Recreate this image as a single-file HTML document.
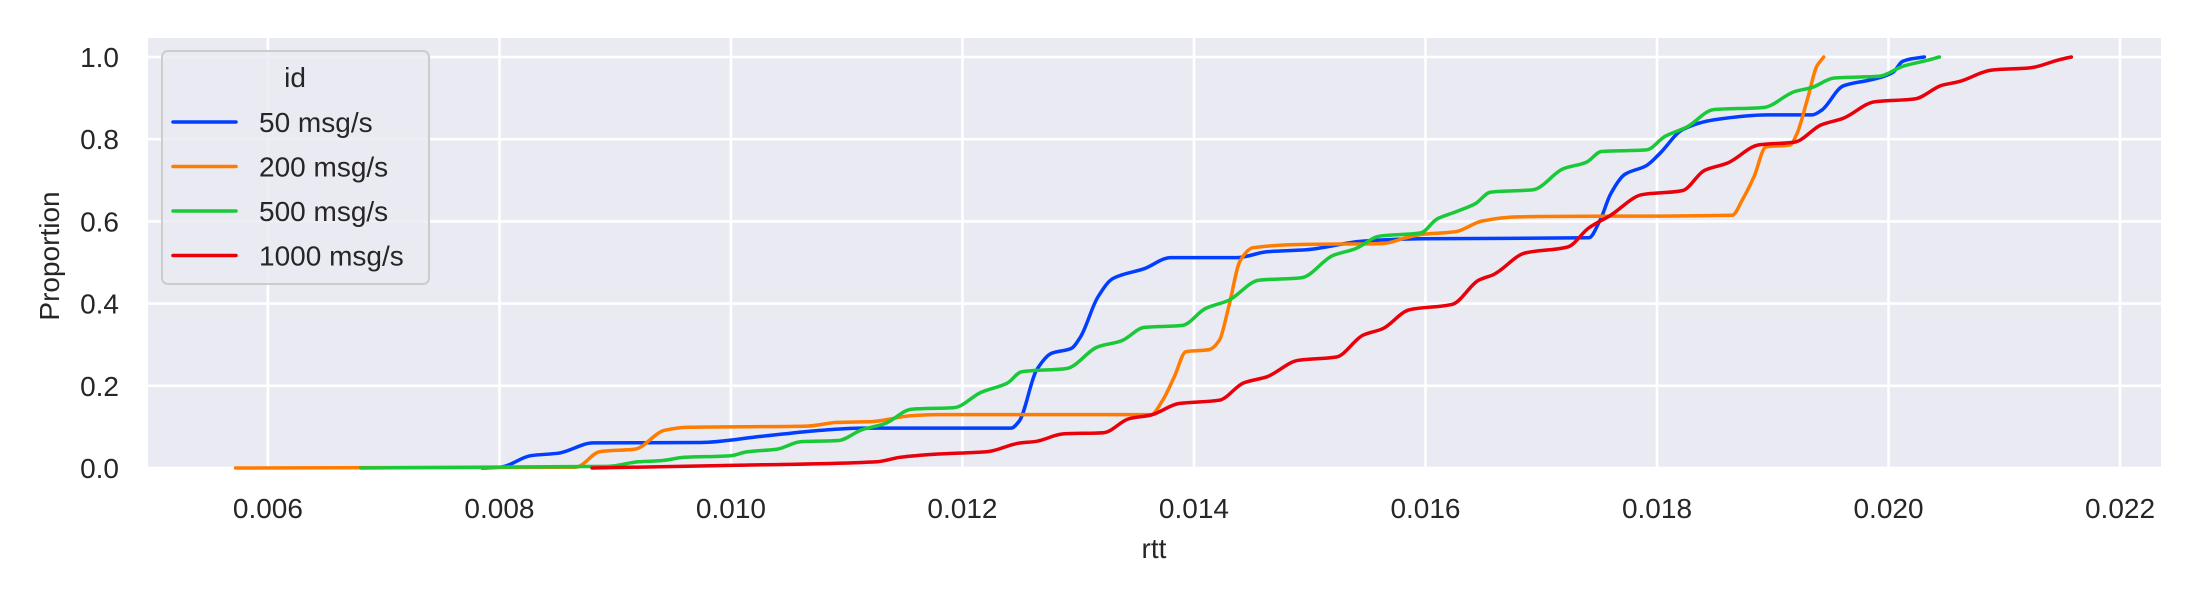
<!DOCTYPE html>
<html>
<head>
<meta charset="utf-8">
<style>
  html,body{margin:0;padding:0;background:#fff;}
  svg{display:block;}
  text{font-family:"Liberation Sans","DejaVu Sans",sans-serif;fill:#262626;}
</style>
</head>
<body>
<svg id="chart" width="2200" height="600" viewBox="0 0 2200 600" xmlns="http://www.w3.org/2000/svg">
  <rect x="148" y="38" width="2013" height="430" fill="#eaeaf2"/>
  <g id="grid"></g>
  <g id="series"></g>
  <g id="xticks"></g>
  <g id="yticks"></g>
  <text x="1154" y="558" font-size="28" text-anchor="middle">rtt</text>
  <text x="0" y="0" font-size="28" text-anchor="middle" transform="translate(59,256) rotate(-90)">Proportion</text>
  <g>
    <rect x="162" y="51" width="267" height="233" rx="6" ry="6" fill="#eaeaf2" fill-opacity="0.8" stroke="#cccccc" stroke-width="2"/>
    <text x="295" y="87" font-size="28" text-anchor="middle">id</text>
    <g id="legendEntries"></g>
  </g>
</svg>
<script>
const xTicks = [0.006, 0.008, 0.010, 0.012, 0.014, 0.016, 0.018, 0.020, 0.022];
const xTickLabels = ["0.006","0.008","0.010","0.012","0.014","0.016","0.018","0.020","0.022"];
const yTicks = [0, 0.2, 0.4, 0.6, 0.8, 1.0];
const yTickLabels = ["0.0","0.2","0.4","0.6","0.8","1.0"];
const seriesNames = ["50 msg/s","200 msg/s","500 msg/s","1000 msg/s"];
const seriesColors = ["#023eff","#ff7c00","#1ac938","#e8000b"];

const rtt50 = [0.00785,0.00801,0.00827,0.00851,0.00881,0.00974,0.01026,0.01079,0.01113,0.01242,0.01249,0.01264,0.01277,0.01294,0.01302,0.01317,0.01330,0.01357,0.01380,0.01437,0.01463,0.01497,0.01546,0.01596,0.01741,0.01751,0.01760,0.01772,0.01791,0.01803,0.01822,0.01849,0.01896,0.01934,0.01942,0.01961,0.01984,0.01996,0.02004,0.02012,0.02019,0.02031];
const prop50 = [0,0.002,0.030,0.036,0.061,0.062,0.077,0.092,0.097,0.097,0.114,0.238,0.279,0.291,0.319,0.416,0.461,0.485,0.512,0.512,0.526,0.531,0.552,0.558,0.560,0.604,0.667,0.714,0.736,0.767,0.823,0.847,0.859,0.859,0.870,0.930,0.944,0.953,0.963,0.989,0.995,1.0];

const rtt200 = [0.00572,0.00866,0.00887,0.00917,0.00943,0.00963,0.01066,0.01092,0.01122,0.01155,0.01178,0.01363,0.01373,0.01383,0.01393,0.01413,0.01422,0.01430,0.01440,0.01451,0.01496,0.01563,0.01583,0.01596,0.01626,0.01649,0.01679,0.01865,0.01874,0.01884,0.01894,0.01915,0.01921,0.01930,0.01938,0.01944];
const prop200 = [0,0.002,0.040,0.046,0.092,0.099,0.102,0.111,0.113,0.127,0.130,0.130,0.165,0.222,0.283,0.288,0.311,0.392,0.505,0.536,0.544,0.546,0.560,0.568,0.575,0.601,0.611,0.615,0.654,0.710,0.781,0.786,0.814,0.898,0.977,1.0];

const rtt500 = [0.00680,0.00894,0.00920,0.00940,0.00960,0.01000,0.01013,0.01040,0.01060,0.01093,0.01113,0.01133,0.01156,0.01193,0.01216,0.01239,0.01251,0.01290,0.01317,0.01337,0.01357,0.01390,0.01410,0.01430,0.01456,0.01493,0.01520,0.01540,0.01560,0.01596,0.01610,0.01626,0.01643,0.01656,0.01693,0.01719,0.01739,0.01752,0.01791,0.01807,0.01826,0.01849,0.01892,0.01919,0.01934,0.01953,0.01992,0.02012,0.02035,0.02044];
const prop500 = [0,0.004,0.015,0.018,0.026,0.030,0.039,0.046,0.064,0.067,0.093,0.108,0.143,0.147,0.184,0.207,0.234,0.242,0.295,0.309,0.342,0.347,0.388,0.408,0.457,0.463,0.517,0.534,0.564,0.572,0.606,0.623,0.643,0.671,0.677,0.728,0.744,0.770,0.774,0.807,0.830,0.872,0.877,0.916,0.926,0.949,0.953,0.977,0.993,1.0];

const rtt1000 = [0.00880,0.01013,0.01126,0.01146,0.01179,0.01222,0.01248,0.01264,0.01287,0.01322,0.01344,0.01363,0.01387,0.01422,0.01443,0.01463,0.01490,0.01523,0.01546,0.01563,0.01586,0.01623,0.01646,0.01659,0.01686,0.01723,0.01741,0.01760,0.01787,0.01822,0.01841,0.01861,0.01888,0.01919,0.01942,0.01961,0.01988,0.02023,0.02046,0.02061,0.02089,0.02123,0.02147,0.02158];
const prop1000 = [0,0.007,0.015,0.026,0.034,0.040,0.060,0.065,0.083,0.086,0.120,0.129,0.157,0.165,0.207,0.222,0.262,0.270,0.323,0.339,0.385,0.398,0.457,0.471,0.523,0.538,0.584,0.615,0.665,0.675,0.724,0.742,0.786,0.793,0.835,0.851,0.891,0.898,0.931,0.940,0.968,0.974,0.993,1.0];

const PL = 148, PR = 2161, PT = 38, PB = 468;
const X0 = 0.004964, X1 = 0.022354, Y0 = 0, Y1 = 1.0462;
function xScale(v){ return PL + (v - X0) / (X1 - X0) * (PR - PL); }
function yScale(v){ return PB - (v - Y0) / (Y1 - Y0) * (PB - PT); }

const NS = "http://www.w3.org/2000/svg";
function mk(tag){ return document.createElementNS(NS, tag); }

const grid = document.getElementById("grid");
const xt = document.getElementById("xticks");
const yt = document.getElementById("yticks");
xTicks.forEach((t, i) => {
  const l = mk("line");
  
  
  l.setAttribute("x1", xScale(t)); l.setAttribute("x2", xScale(t));
  l.setAttribute("y1", PT); l.setAttribute("y2", PB);
  l.setAttribute("stroke", "#ffffff"); l.setAttribute("stroke-width", "2.6");
  grid.appendChild(l);
  const tx = mk("text");
  
  
  tx.setAttribute("x", xScale(t)); tx.setAttribute("y", 518);
  tx.setAttribute("font-size", "28"); tx.setAttribute("text-anchor", "middle");
  tx.textContent = xTickLabels[i];
  xt.appendChild(tx);
});
yTicks.forEach((t, i) => {
  const l = mk("line");
  
  
  l.setAttribute("x1", PL); l.setAttribute("x2", PR);
  l.setAttribute("y1", yScale(t)); l.setAttribute("y2", yScale(t));
  l.setAttribute("stroke", "#ffffff"); l.setAttribute("stroke-width", "2.6");
  grid.appendChild(l);
  const tx = mk("text");
  
  
  tx.setAttribute("x", 119); tx.setAttribute("y", yScale(t) + 10);
  tx.setAttribute("font-size", "28"); tx.setAttribute("text-anchor", "end");
  tx.textContent = yTickLabels[i];
  yt.appendChild(tx);
});

// monotone cubic (Fritsch-Carlson) path in pixel space
function monotonePath(pts) {
  const n = pts.length;
  const dx = [], m = [], t = [];
  for (let i = 0; i < n - 1; i++) {
    dx.push(pts[i+1][0] - pts[i][0]);
    m.push((pts[i+1][1] - pts[i][1]) / (dx[i] || 1e-6));
  }
  t[0] = m[0]; t[n-1] = m[n-2];
  for (let i = 1; i < n - 1; i++) {
    if (m[i-1] * m[i] <= 0) t[i] = 0;
    else {
      const w1 = 2*dx[i] + dx[i-1], w2 = dx[i] + 2*dx[i-1];
      t[i] = (w1 + w2) / (w1 / m[i-1] + w2 / m[i]);
    }
  }
  let d = "M" + pts[0][0].toFixed(1) + "," + pts[0][1].toFixed(1);
  for (let i = 0; i < n - 1; i++) {
    const h = dx[i] / 3;
    d += " C" + (pts[i][0] + h).toFixed(1) + "," + (pts[i][1] + t[i]*h).toFixed(1) + " " +
         (pts[i+1][0] - h).toFixed(1) + "," + (pts[i+1][1] - t[i+1]*h).toFixed(1) + " " +
         pts[i+1][0].toFixed(1) + "," + pts[i+1][1].toFixed(1);
  }
  return d;
}

const allX = [rtt50, rtt200, rtt500, rtt1000];
const allY = [prop50, prop200, prop500, prop1000];
const sg = document.getElementById("series");
allX.forEach((xs, s) => {
  const ys = allY[s];
  const pts = xs.map((x, i) => [xScale(x), yScale(ys[i])]);
  const p = mk("path");
  
  
  p.setAttribute("d", monotonePath(pts));
  p.setAttribute("fill", "none");
  p.setAttribute("stroke", seriesColors[s]);
  p.setAttribute("stroke-width", "3.5");
  p.setAttribute("stroke-linejoin", "round");
  p.setAttribute("stroke-linecap", "round");
  sg.appendChild(p);
});

const le = document.getElementById("legendEntries");
seriesNames.forEach((n, i) => {
  const y = 122 + i * 44.5;
  const l = mk("line");
  
  
  l.setAttribute("x1", 173); l.setAttribute("x2", 236);
  l.setAttribute("y1", y); l.setAttribute("y2", y);
  l.setAttribute("stroke", seriesColors[i]); l.setAttribute("stroke-width", "3.5");
  l.setAttribute("stroke-linecap", "round");
  le.appendChild(l);
  const t = mk("text");
  
  
  t.setAttribute("x", 259); t.setAttribute("y", y + 10);
  t.setAttribute("font-size", "28");
  t.textContent = n;
  le.appendChild(t);
});
</script>
</body>
</html>
